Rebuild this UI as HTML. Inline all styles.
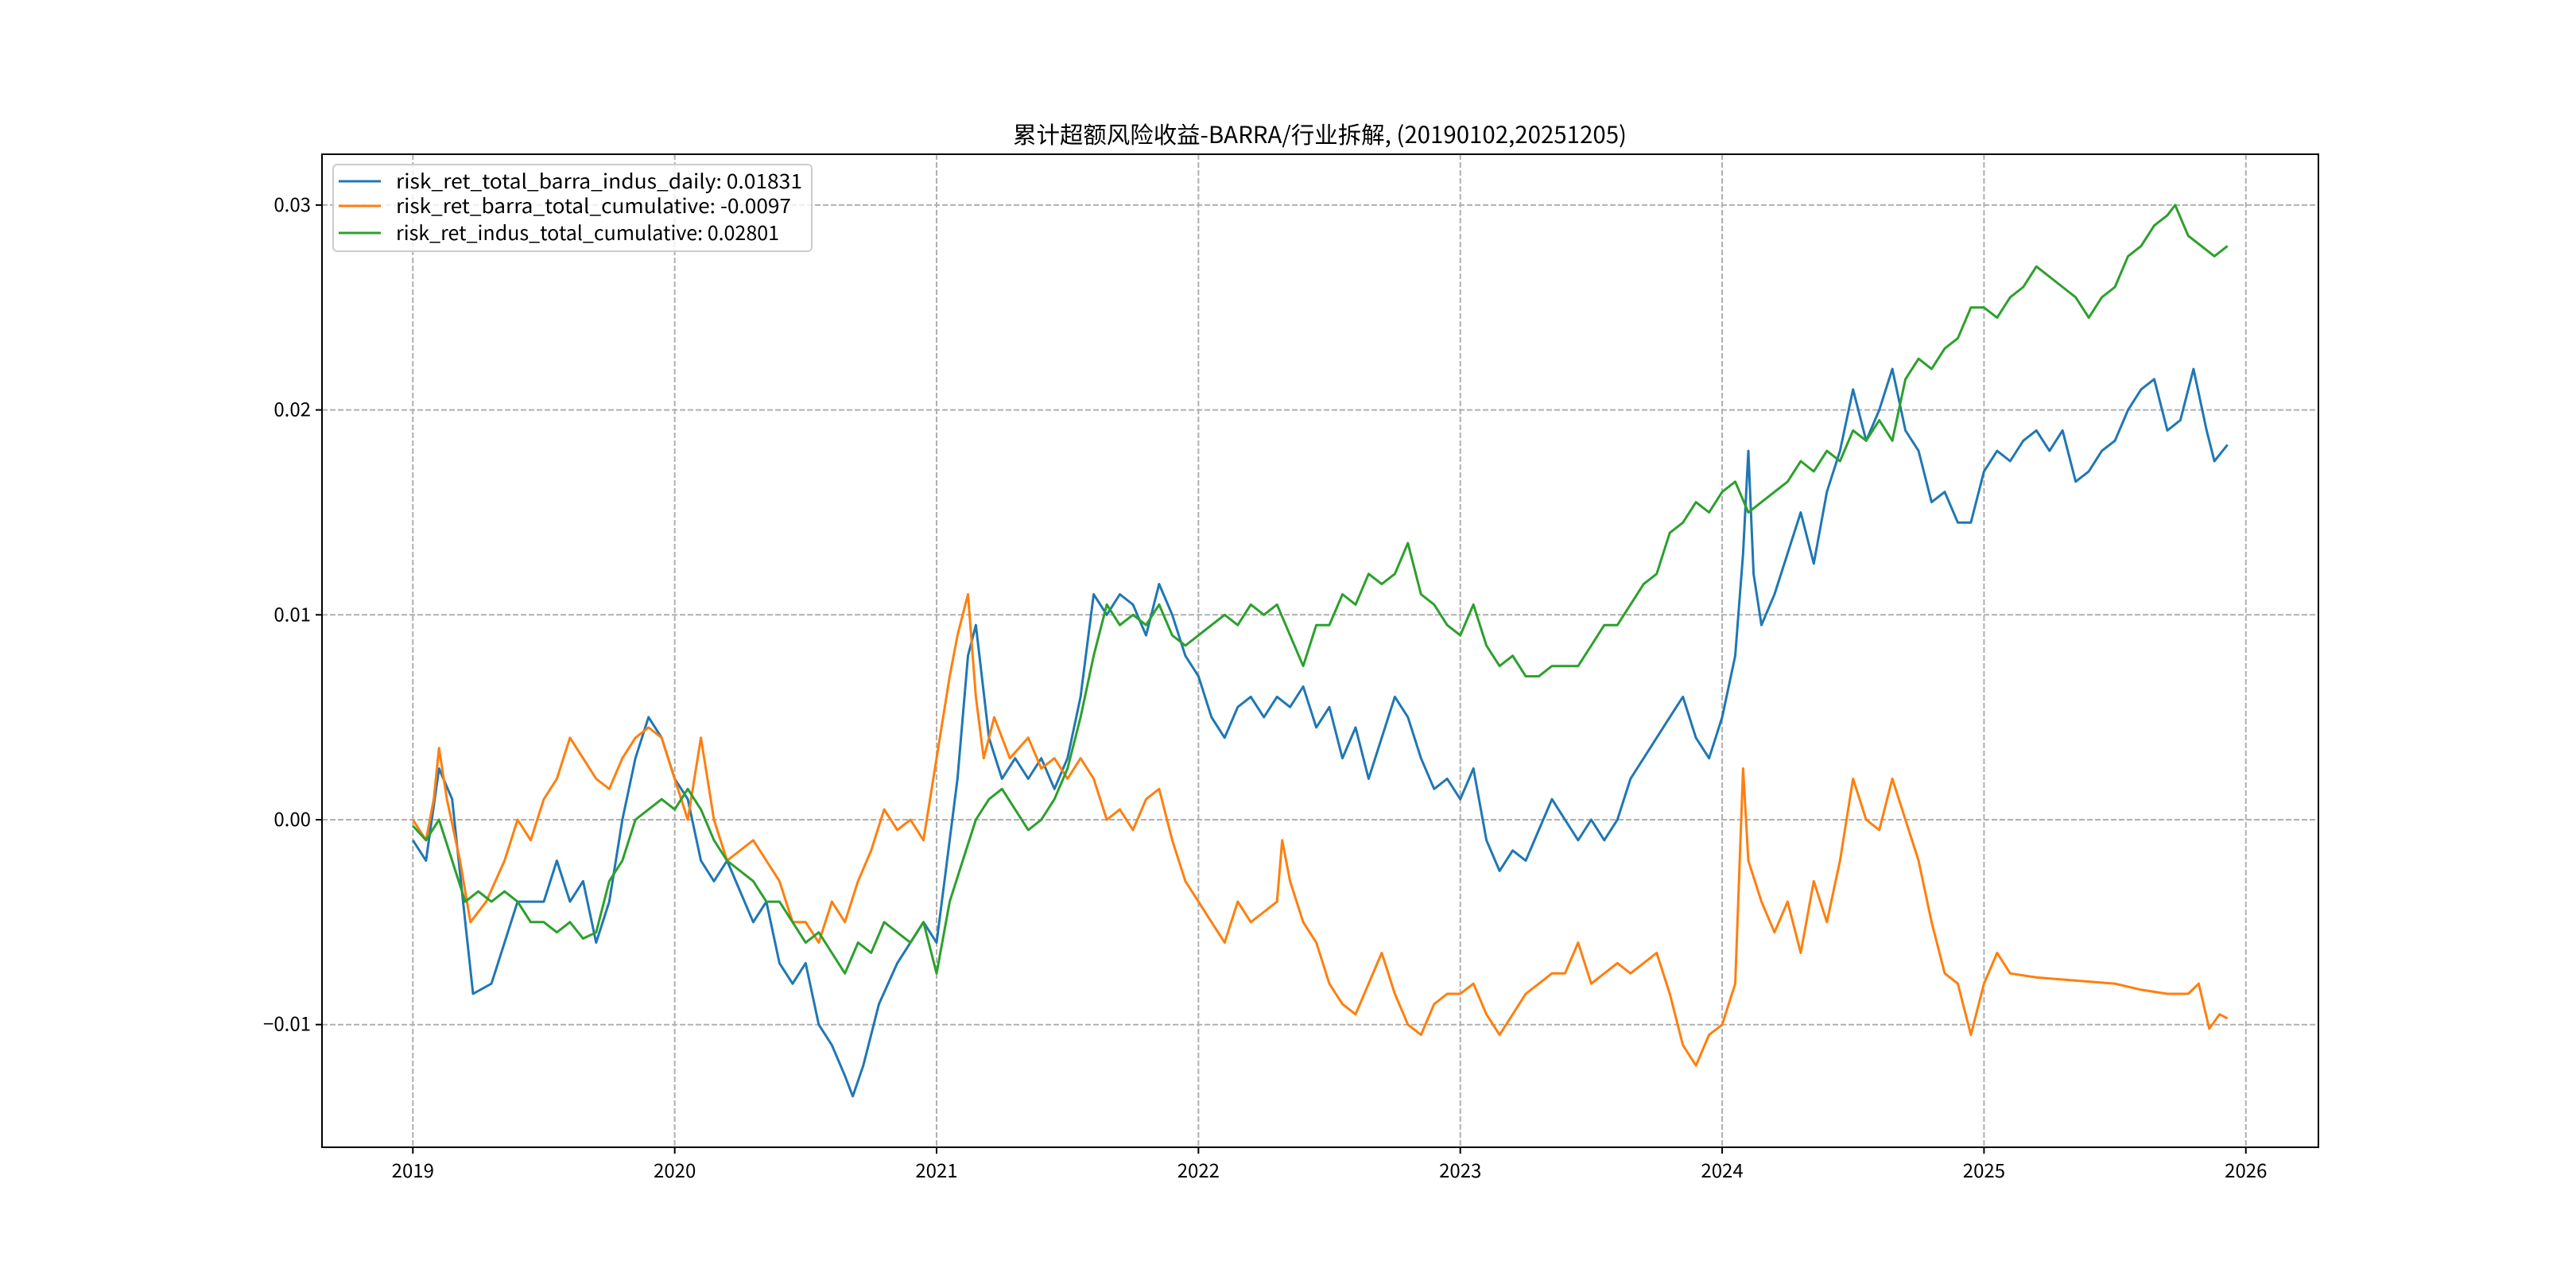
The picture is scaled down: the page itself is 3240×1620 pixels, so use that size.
<!DOCTYPE html>
<html><head><meta charset="utf-8"><style>
html,body{margin:0;padding:0;background:#fff;}
svg{display:block;}
text{font-family:"WenQuanYi Zen Hei","Noto Sans CJK SC","Liberation Sans",sans-serif;fill:#000;}
</style></head><body>
<svg id="chart" width="3240" height="1620" viewBox="0 0 3240 1620" xmlns="http://www.w3.org/2000/svg">
<rect x="0" y="0" width="3240" height="1620" fill="#fff"/>
<g id="grid"></g>
<g id="series"></g>
<rect x="405" y="194" width="2511" height="1249" fill="none" stroke="#000" stroke-width="2"/>
<g id="axes"></g>
<text x="1660" y="180" text-anchor="middle" font-size="29" textLength="772" lengthAdjust="spacingAndGlyphs">累计超额风险收益-BARRA/行业拆解, (20190102,20251205)</text>
<g id="legend"></g>
</svg>
<script>
const xTicks = [2019,2020,2021,2022,2023,2024,2025,2026];
const yTicks = [-0.01,0,0.01,0.02,0.03];
const yTickLabels = ["−0.01","0.00","0.01","0.02","0.03"];
const seriesNames = ["risk_ret_total_barra_indus_daily: 0.01831","risk_ret_barra_total_cumulative: -0.0097","risk_ret_indus_total_cumulative: 0.02801"];
const seriesColors = ["#1f77b4","#ff7f0e","#2ca02c"];
const blueT = [2019.0,2019.05,2019.1,2019.15,2019.2,2019.23,2019.3,2019.35,2019.4,2019.5,2019.55,2019.6,2019.65,2019.7,2019.75,2019.8,2019.85,2019.9,2019.95,2020.0,2020.05,2020.1,2020.15,2020.2,2020.3,2020.35,2020.4,2020.45,2020.5,2020.55,2020.6,2020.65,2020.68,2020.72,2020.78,2020.85,2020.9,2020.95,2021.0,2021.03,2021.08,2021.12,2021.15,2021.2,2021.25,2021.3,2021.35,2021.4,2021.45,2021.5,2021.55,2021.6,2021.65,2021.7,2021.75,2021.8,2021.85,2021.9,2021.95,2022.0,2022.05,2022.1,2022.15,2022.2,2022.25,2022.3,2022.35,2022.4,2022.45,2022.5,2022.55,2022.6,2022.65,2022.7,2022.75,2022.8,2022.85,2022.9,2022.95,2023.0,2023.05,2023.1,2023.15,2023.2,2023.25,2023.3,2023.35,2023.4,2023.45,2023.5,2023.55,2023.6,2023.65,2023.7,2023.75,2023.8,2023.85,2023.9,2023.95,2024.0,2024.05,2024.08,2024.1,2024.12,2024.15,2024.2,2024.25,2024.3,2024.35,2024.4,2024.45,2024.5,2024.55,2024.6,2024.65,2024.7,2024.75,2024.8,2024.85,2024.9,2024.95,2025.0,2025.05,2025.1,2025.15,2025.2,2025.25,2025.3,2025.35,2025.4,2025.45,2025.5,2025.55,2025.6,2025.65,2025.7,2025.75,2025.8,2025.85,2025.88,2025.93];
const blueV = [-0.001,-0.002,0.0025,0.001,-0.005,-0.0085,-0.008,-0.006,-0.004,-0.004,-0.002,-0.004,-0.003,-0.006,-0.004,0.0,0.003,0.005,0.004,0.002,0.001,-0.002,-0.003,-0.002,-0.005,-0.004,-0.007,-0.008,-0.007,-0.01,-0.011,-0.0125,-0.0135,-0.012,-0.009,-0.007,-0.006,-0.005,-0.006,-0.003,0.002,0.008,0.0095,0.004,0.002,0.003,0.002,0.003,0.0015,0.003,0.006,0.011,0.010,0.011,0.0105,0.009,0.0115,0.010,0.008,0.007,0.005,0.004,0.0055,0.006,0.005,0.006,0.0055,0.0065,0.0045,0.0055,0.003,0.0045,0.002,0.004,0.006,0.005,0.003,0.0015,0.002,0.001,0.0025,-0.001,-0.0025,-0.0015,-0.002,-0.0005,0.001,0.0,-0.001,0.0,-0.001,0.0,0.002,0.003,0.004,0.005,0.006,0.004,0.003,0.005,0.008,0.013,0.018,0.012,0.0095,0.011,0.013,0.015,0.0125,0.016,0.018,0.021,0.0185,0.02,0.022,0.019,0.018,0.0155,0.016,0.0145,0.0145,0.017,0.018,0.0175,0.0185,0.019,0.018,0.019,0.0165,0.017,0.018,0.0185,0.02,0.021,0.0215,0.019,0.0195,0.022,0.019,0.0175,0.0183];
const orangeT = [2019.0,2019.05,2019.08,2019.1,2019.13,2019.18,2019.22,2019.28,2019.35,2019.4,2019.45,2019.5,2019.55,2019.6,2019.65,2019.7,2019.75,2019.8,2019.85,2019.9,2019.95,2020.0,2020.05,2020.1,2020.15,2020.2,2020.3,2020.35,2020.4,2020.45,2020.5,2020.55,2020.6,2020.65,2020.7,2020.75,2020.8,2020.85,2020.9,2020.95,2021.0,2021.05,2021.08,2021.12,2021.15,2021.18,2021.22,2021.28,2021.35,2021.4,2021.45,2021.5,2021.55,2021.6,2021.65,2021.7,2021.75,2021.8,2021.85,2021.9,2021.95,2022.0,2022.05,2022.1,2022.15,2022.2,2022.25,2022.3,2022.32,2022.35,2022.4,2022.45,2022.5,2022.55,2022.6,2022.65,2022.7,2022.75,2022.8,2022.85,2022.9,2022.95,2023.0,2023.05,2023.1,2023.15,2023.2,2023.25,2023.3,2023.35,2023.4,2023.45,2023.5,2023.55,2023.6,2023.65,2023.7,2023.75,2023.8,2023.85,2023.9,2023.95,2024.0,2024.05,2024.08,2024.1,2024.15,2024.2,2024.25,2024.3,2024.35,2024.4,2024.45,2024.5,2024.55,2024.6,2024.65,2024.7,2024.75,2024.8,2024.85,2024.9,2024.95,2025.0,2025.05,2025.1,2025.2,2025.3,2025.4,2025.5,2025.6,2025.7,2025.78,2025.82,2025.86,2025.9,2025.93];
const orangeV = [0.0,-0.001,0.001,0.0035,0.001,-0.002,-0.005,-0.004,-0.002,0.0,-0.001,0.001,0.002,0.004,0.003,0.002,0.0015,0.003,0.004,0.0045,0.004,0.002,0.0,0.004,0.0,-0.002,-0.001,-0.002,-0.003,-0.005,-0.005,-0.006,-0.004,-0.005,-0.003,-0.0015,0.0005,-0.0005,0.0,-0.001,0.003,0.007,0.009,0.011,0.006,0.003,0.005,0.003,0.004,0.0025,0.003,0.002,0.003,0.002,0.0,0.0005,-0.0005,0.001,0.0015,-0.001,-0.003,-0.004,-0.005,-0.006,-0.004,-0.005,-0.0045,-0.004,-0.001,-0.003,-0.005,-0.006,-0.008,-0.009,-0.0095,-0.008,-0.0065,-0.0085,-0.01,-0.0105,-0.009,-0.0085,-0.0085,-0.008,-0.0095,-0.0105,-0.0095,-0.0085,-0.008,-0.0075,-0.0075,-0.006,-0.008,-0.0075,-0.007,-0.0075,-0.007,-0.0065,-0.0085,-0.011,-0.012,-0.0105,-0.010,-0.008,0.0025,-0.002,-0.004,-0.0055,-0.004,-0.0065,-0.003,-0.005,-0.002,0.002,0.0,-0.0005,0.002,0.0,-0.002,-0.005,-0.0075,-0.008,-0.0105,-0.008,-0.0065,-0.0075,-0.0077,-0.0078,-0.0079,-0.008,-0.0083,-0.0085,-0.0085,-0.008,-0.0102,-0.0095,-0.0097];
const greenT = [2019.0,2019.05,2019.1,2019.15,2019.2,2019.25,2019.3,2019.35,2019.4,2019.45,2019.5,2019.55,2019.6,2019.65,2019.7,2019.75,2019.8,2019.85,2019.9,2019.95,2020.0,2020.05,2020.1,2020.15,2020.2,2020.3,2020.35,2020.4,2020.45,2020.5,2020.55,2020.6,2020.65,2020.7,2020.75,2020.8,2020.85,2020.9,2020.95,2021.0,2021.05,2021.1,2021.15,2021.2,2021.25,2021.3,2021.35,2021.4,2021.45,2021.5,2021.55,2021.6,2021.65,2021.7,2021.75,2021.8,2021.85,2021.9,2021.95,2022.0,2022.05,2022.1,2022.15,2022.2,2022.25,2022.3,2022.35,2022.4,2022.45,2022.5,2022.55,2022.6,2022.65,2022.7,2022.75,2022.8,2022.85,2022.9,2022.95,2023.0,2023.05,2023.1,2023.15,2023.2,2023.25,2023.3,2023.35,2023.4,2023.45,2023.5,2023.55,2023.6,2023.65,2023.7,2023.75,2023.8,2023.85,2023.9,2023.95,2024.0,2024.05,2024.1,2024.15,2024.2,2024.25,2024.3,2024.35,2024.4,2024.45,2024.5,2024.55,2024.6,2024.65,2024.7,2024.75,2024.8,2024.85,2024.9,2024.95,2025.0,2025.05,2025.1,2025.15,2025.2,2025.25,2025.3,2025.35,2025.4,2025.45,2025.5,2025.55,2025.6,2025.65,2025.7,2025.73,2025.78,2025.83,2025.88,2025.93];
const greenV = [-0.0003,-0.001,0.0,-0.002,-0.004,-0.0035,-0.004,-0.0035,-0.004,-0.005,-0.005,-0.0055,-0.005,-0.0058,-0.0055,-0.003,-0.002,0.0,0.0005,0.001,0.0005,0.0015,0.0005,-0.001,-0.002,-0.003,-0.004,-0.004,-0.005,-0.006,-0.0055,-0.0065,-0.0075,-0.006,-0.0065,-0.005,-0.0055,-0.006,-0.005,-0.0075,-0.004,-0.002,0.0,0.001,0.0015,0.0005,-0.0005,0.0,0.001,0.0025,0.005,0.008,0.0105,0.0095,0.010,0.0095,0.0105,0.009,0.0085,0.009,0.0095,0.010,0.0095,0.0105,0.010,0.0105,0.009,0.0075,0.0095,0.0095,0.011,0.0105,0.012,0.0115,0.012,0.0135,0.011,0.0105,0.0095,0.009,0.0105,0.0085,0.0075,0.008,0.007,0.007,0.0075,0.0075,0.0075,0.0085,0.0095,0.0095,0.0105,0.0115,0.012,0.014,0.0145,0.0155,0.015,0.016,0.0165,0.015,0.0155,0.016,0.0165,0.0175,0.017,0.018,0.0175,0.019,0.0185,0.0195,0.0185,0.0215,0.0225,0.022,0.023,0.0235,0.025,0.025,0.0245,0.0255,0.026,0.027,0.0265,0.026,0.0255,0.0245,0.0255,0.026,0.0275,0.028,0.029,0.0295,0.030,0.0285,0.028,0.0275,0.028];

const NS="http://www.w3.org/2000/svg";
const L=405,R=2916,T=194,B=1443;
const xMin=2018.653,xMax=2026.277;
function xs(v){return L+(v-xMin)/(xMax-xMin)*(R-L);}
const yZero=1031,yPer=25770;
function ys(v){return yZero-v*yPer;}
function mk(tag,attrs,parent){const e=document.createElementNS(NS,tag);for(const k in attrs)e.setAttribute(k,attrs[k]);parent.appendChild(e);return e;}
const grid=document.getElementById('grid'),axes=document.getElementById('axes'),ser=document.getElementById('series'),leg=document.getElementById('legend');
xTicks.forEach(t=>{const x=xs(t);
 const g=mk('line',{x1:x,x2:x,y1:T,y2:B,stroke:'#b0b0b0','stroke-width':2,'stroke-dasharray':'7,3'},grid);
 
 
 const tk=mk('line',{x1:x,x2:x,y1:B,y2:B+8,stroke:'#000','stroke-width':2},axes);
 
 
 const tx=mk('text',{x:x,y:B+38,'text-anchor':'middle','font-size':24},axes);tx.textContent=String(t);
 
 
});
yTicks.forEach((t,i)=>{const y=ys(t);
 const g=mk('line',{x1:L,x2:R,y1:y,y2:y,stroke:'#b0b0b0','stroke-width':2,'stroke-dasharray':'7,3'},grid);
 
 
 const tk=mk('line',{x1:L-8,x2:L,y1:y,y2:y,stroke:'#000','stroke-width':2},axes);
 
 
 const tx=mk('text',{x:L-14,y:y+8,'text-anchor':'end','font-size':24},axes);tx.textContent=yTickLabels[i];
 
 
});
const allT=[blueT,orangeT,greenT],allV=[blueV,orangeV,greenV],sNames=['blue-series-line','orange-series-line','green-series-line'];
for(let s=0;s<3;s++){
 const d=allT[s].map((t,i)=>(i?'L':'M')+xs(t).toFixed(1)+','+ys(allV[s][i]).toFixed(1)).join(' ');
 const p=mk('path',{d:d,fill:'none',stroke:seriesColors[s],'stroke-width':3,'stroke-linejoin':'round'},ser);
 
 
}
const box=mk('rect',{x:419,y:207,width:602,height:109,rx:5,fill:'#fff','fill-opacity':0.8,stroke:'#ccc','stroke-width':2},leg);


const rowsY=[228,259,293],tl=[511,497,482];
seriesNames.forEach((n,i)=>{
 const ln=mk('line',{x1:426,x2:479,y1:rowsY[i],y2:rowsY[i],stroke:seriesColors[i],'stroke-width':3},leg);
 
 
 const tx=mk('text',{x:498,y:rowsY[i]+9,'font-size':25,textLength:tl[i],lengthAdjust:'spacingAndGlyphs'},leg);tx.textContent=n;
 
 
});
</script>
</body></html>
